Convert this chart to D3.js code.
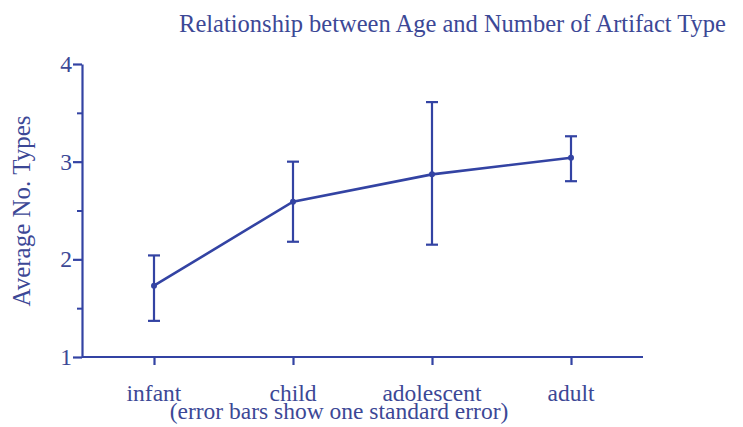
<!DOCTYPE html>
<html>
<head>
<meta charset="utf-8">
<script src="https://cdn.jsdelivr.net/npm/d3@7/dist/d3.min.js"></script>
<style>
  body { margin: 0; background: #fff; }
  text { font-family: "Liberation Serif", "DejaVu Serif", serif; fill: #3c4896; }
</style>
</head>
<body>
<div id="chart"></div>
<script>
const ages = ["infant", "child", "adolescent", "adult"];
const means = [1.73, 2.59, 2.87, 3.04];
const upper = [2.04, 3.00, 3.61, 3.26];
const lower = [1.37, 2.18, 2.15, 2.80];
const yTicks = [1, 2, 3, 4];
const yMinor = [1.5, 2.5, 3.5];

const W = 743, H = 427;
const ink = "#3343a3";

const svg = d3.select("#chart").append("svg")
  .attr("width", W)
  .attr("height", H);

const x = d3.scalePoint()
  .domain(ages)
  .range([154, 571]);

const y = d3.scaleLinear()
  .domain([1, 4])
  .range([357, 64]);

// x axis
const xAxis = svg.append("g")
  .attr("transform", "translate(0," + y(1) + ")")
  .call(d3.axisBottom(x).tickSize(8).tickSizeOuter(0).tickFormat(""));
xAxis.select(".domain").attr("d", "M82,0H643");
xAxis.selectAll("path, line").attr("stroke", ink).attr("stroke-width", 2.2);

// y axis
const yAxis = svg.append("g")
  .attr("transform", "translate(82,0)")
  .call(d3.axisLeft(y).tickValues(yTicks).tickSize(9).tickSizeOuter(0)
    .tickPadding(1).tickFormat(d3.format("d")));
yAxis.selectAll("path, line").attr("stroke", ink).attr("stroke-width", 2.2);
yAxis.selectAll("text")
  .attr("font-size", 23.5)
  .style("font-family", "Liberation Serif")
  .attr("fill", "#3c4896");

svg.append("g")
  .attr("transform", "translate(82,0)")
  .call(d3.axisLeft(y).tickValues(yMinor).tickSize(5).tickFormat(""))
  .call(g => g.select(".domain").remove())
  .selectAll("line").attr("stroke", ink).attr("stroke-width", 2);

// category labels
svg.append("g").selectAll("text")
  .data(ages)
  .enter().append("text")
  .attr("x", d => x(d))
  .attr("y", 401)
  .attr("text-anchor", "middle")
  .attr("font-size", 23.5)
  .text(d => d);

// error bars
const pts = ages.map((a, i) => ({ age: a, mean: means[i], hi: upper[i], lo: lower[i] }));
const capW = 6;

const eb = svg.append("g").attr("stroke", ink).attr("stroke-width", 2.2);
eb.selectAll(".stem").data(pts).enter().append("line")
  .attr("x1", d => x(d.age)).attr("x2", d => x(d.age))
  .attr("y1", d => y(d.hi)).attr("y2", d => y(d.lo));
eb.selectAll(".capHi").data(pts).enter().append("line")
  .attr("x1", d => x(d.age) - capW).attr("x2", d => x(d.age) + capW)
  .attr("y1", d => y(d.hi)).attr("y2", d => y(d.hi));
eb.selectAll(".capLo").data(pts).enter().append("line")
  .attr("x1", d => x(d.age) - capW).attr("x2", d => x(d.age) + capW)
  .attr("y1", d => y(d.lo)).attr("y2", d => y(d.lo));

// mean line
svg.append("path")
  .datum(pts)
  .attr("fill", "none")
  .attr("stroke", ink)
  .attr("stroke-width", 2.6)
  .attr("d", d3.line().x(d => x(d.age)).y(d => y(d.mean)));

svg.append("g").selectAll("circle")
  .data(pts)
  .enter().append("circle")
  .attr("cx", d => x(d.age))
  .attr("cy", d => y(d.mean))
  .attr("r", 3)
  .attr("fill", ink);

// title
svg.append("text")
  .attr("x", 726)
  .attr("y", 32)
  .attr("text-anchor", "end")
  .attr("font-size", 24.5)
  .text("Relationship between Age and Number of Artifact Type");

// y label
svg.append("text")
  .attr("transform", "translate(30,211) rotate(-90)")
  .attr("text-anchor", "middle")
  .attr("font-size", 25)
  .text("Average No. Types");

// note under x axis
svg.append("text")
  .attr("x", 339)
  .attr("y", 419)
  .attr("text-anchor", "middle")
  .attr("font-size", 23.5)
  .text("(error bars show one standard error)");
</script>
</body>
</html>
